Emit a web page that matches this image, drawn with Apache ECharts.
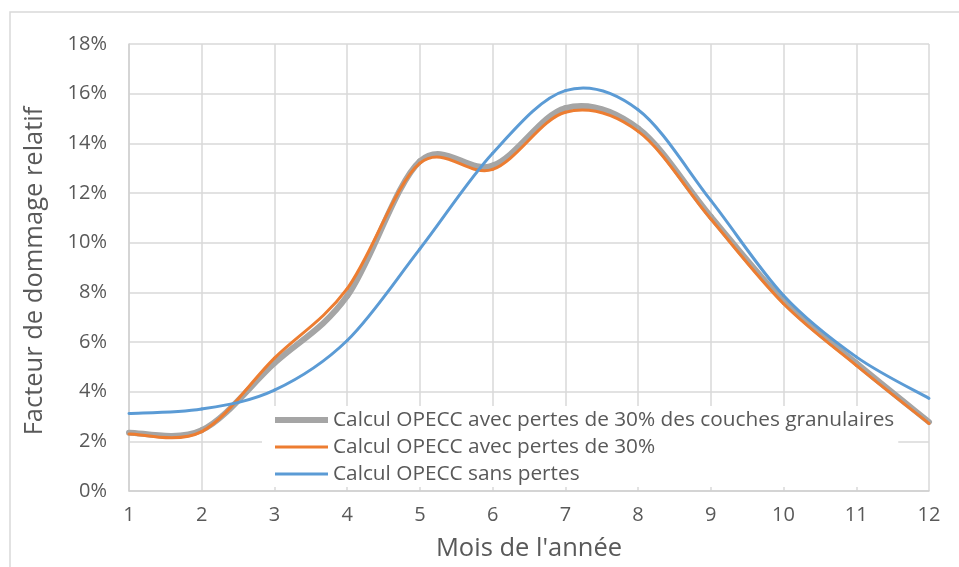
<!DOCTYPE html>
<html><head><meta charset="utf-8">
<script src="https://cdn.jsdelivr.net/npm/echarts@6/dist/echarts.min.js"></script>
<style>html,body{margin:0;padding:0;background:#fff}#c{width:959px;height:567px}</style>
</head><body><div id="c"></div>
<script>
const months = [1,2,3,4,5,6,7,8,9,10,11,12];
const seriesNames = [
  "Calcul OPECC avec pertes de 30% des couches granulaires",
  "Calcul OPECC avec pertes de 30%",
  "Calcul OPECC sans pertes"
];
const grayValues   = [2.35, 2.45, 5.15, 7.85, 13.28, 13.1, 15.42, 14.6, 11.05, 7.65, 5.15, 2.78];
const orangeValues = [2.3, 2.39, 5.35, 8.15, 13.2, 12.95, 15.25, 14.48, 10.95, 7.54, 5.06, 2.72];
const blueValues   = [3.12, 3.3, 4.06, 6.06, 9.75, 13.6, 16.12, 15.35, 11.7, 7.87, 5.4, 3.73];
const yTicks = [0,2,4,6,8,10,12,14,16,18];

const colors = ['#a5a5a5', '#ed7d31', '#5b9bd5'];
const widths = [6, 3, 3];
const pair = v => months.map((m,i)=>[m, v[i]]);
const font = "'Open Sans', sans-serif";

// Excel-like smoothed line: cubic Bezier through every data point (Catmull-Rom tangents)
function smoothRender(values, color, width){
  return function(params, api){
    if (params.dataIndex !== 0) return null;
    const pts = months.map((m,i)=>api.coord([m, values[i]]));
    const n = pts.length, t = 1/6, children = [];
    for (let i=0;i<n-1;i++){
      const p0 = pts[Math.max(i-1,0)], p1 = pts[i], p2 = pts[i+1], p3 = pts[Math.min(i+2,n-1)];
      children.push({type:'bezierCurve', silent:true,
        shape:{x1:p1[0], y1:p1[1], x2:p2[0], y2:p2[1],
          cpx1:p1[0]+(p2[0]-p0[0])*t, cpy1:p1[1]+(p2[1]-p0[1])*t,
          cpx2:p2[0]-(p3[0]-p1[0])*t, cpy2:p2[1]-(p3[1]-p1[1])*t},
        style:{stroke:color, lineWidth:width, fill:null, lineCap:'round', lineJoin:'round'}});
    }
    return {type:'group', children};
  };
}
function legendIcon(w){
  const h = 14, a = (h-w)/2, b = a + w;
  return 'path://M0,0M53,14M0,'+a+'L53,'+a+'L53,'+b+'L0,'+b+'Z';
}
const valueSets = [grayValues, orangeValues, blueValues];

const chart = echarts.init(document.getElementById('c'));
chart.setOption({
  animation:false,
  graphic:[{type:'rect', shape:{x:10,y:12,width:1000,height:600}, style:{fill:'none', stroke:'#d9d9d9', lineWidth:1.5}, silent:true, z:-10}],
  grid:{left:129, top:44, width:800, height:449},
  xAxis:{type:'value', min:1, max:12, interval:1,
    name:"Mois de l'année", nameLocation:'middle', nameGap:45,
    nameTextStyle:{fontFamily:font, fontSize:25.5, color:'#595959'},
    axisLine:{lineStyle:{color:'#d0d0d0', width:1.5}},
    axisTick:{show:false},
    axisLabel:{fontFamily:font, fontSize:20, color:'#595959', margin:14},
    splitLine:{lineStyle:{color:'#d9d9d9', width:1.5}}},
  yAxis:{type:'value', min:yTicks[0], max:yTicks[yTicks.length-1], interval:2,
    name:'Facteur de dommage relatif', nameLocation:'middle', nameGap:81, nameRotate:90,
    nameTextStyle:{fontFamily:font, fontSize:25.5, color:'#595959', padding:[0,7,0,0]},
    axisLine:{show:true, lineStyle:{color:'#d0d0d0', width:1.5}},
    axisTick:{show:false},
    axisLabel:{fontFamily:font, fontSize:20, color:'#595959', margin:22, formatter:'{value}%'},
    splitLine:{lineStyle:{color:'#d9d9d9', width:1.5}}},
  legend:{orient:'vertical', left:262, top:406, padding:[3,4,2,13],
    backgroundColor:'#fff', itemWidth:53, itemHeight:14, itemGap:5,
    textStyle:{fontFamily:font, fontSize:20.8, color:'#595959', lineHeight:22},
    data:seriesNames.map((n,i)=>({name:n, icon:legendIcon(widths[i]), itemStyle:{color:colors[i]}}))},
  series:seriesNames.map((n,i)=>({
    name:n, type:'custom', coordinateSystem:'cartesian2d',
    data:pair(valueSets[i]), encode:{x:0, y:1},
    renderItem:smoothRender(valueSets[i], colors[i], widths[i]),
    itemStyle:{color:colors[i]}, z:2+i
  }))
});
</script></body></html>
